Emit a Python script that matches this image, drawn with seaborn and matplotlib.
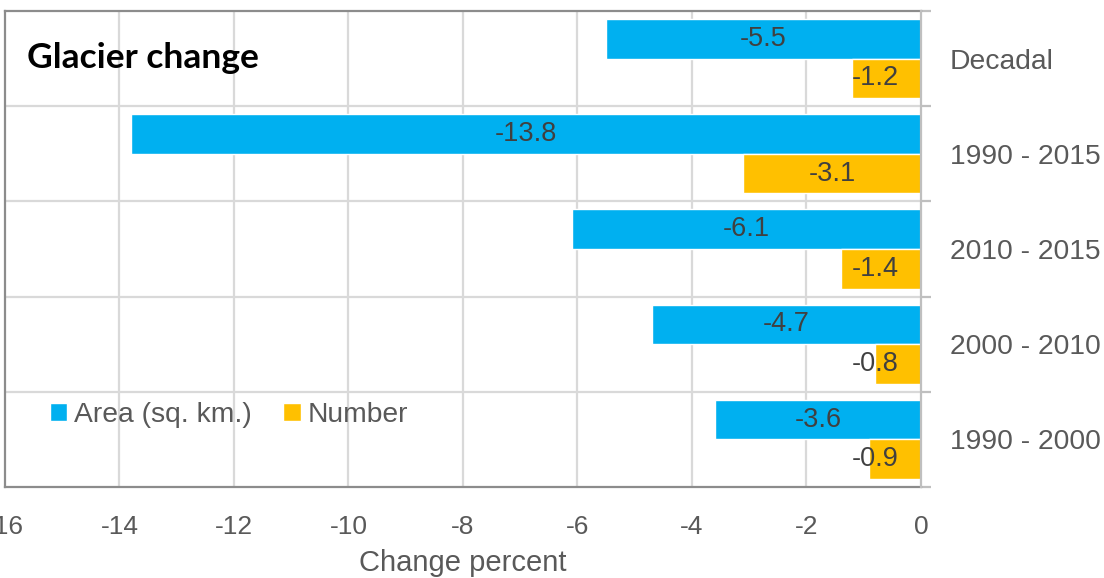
import matplotlib
matplotlib.use("Agg")
import matplotlib.pyplot as plt
import seaborn as sns
import pandas as pd
import numpy as np

# Glacier change by period, percent
periods = ["Decadal", "1990 - 2015", "2010 - 2015", "2000 - 2010", "1990 - 2000"]
area_change = [-5.5, -13.8, -6.1, -4.7, -3.6]
number_change = [-1.2, -3.1, -1.4, -0.8, -0.9]
series_names = ["Area (sq. km.)", "Number"]
x_ticks = [-16, -14, -12, -10, -8, -6, -4, -2, 0]

colors = {"Area (sq. km.)": "#00B0F0", "Number": "#FFC000"}

df = pd.DataFrame({
    "period": periods * 2,
    "series": [series_names[0]] * len(periods) + [series_names[1]] * len(periods),
    "change": area_change + number_change,
})

sns.set_theme(style="white")
plt.rcParams["font.family"] = ["Liberation Sans", "DejaVu Sans"]

text_gray = "#595959"
label_gray = "#404040"

fig = plt.figure(figsize=(11.04, 5.78), dpi=100)
ax = fig.add_axes([0.0045, 0.1574, 0.8297, 0.8236])

sns.barplot(data=df, x="change", y="period", hue="series", order=periods,
            hue_order=series_names, palette=colors, orient="h",
            width=0.83, saturation=1, ax=ax, legend=True, zorder=3)

ax.set_xlim(-16, 0)
ax.set_ylim(len(periods) - 0.5, -0.5)
ax.set_xticks(x_ticks)
ax.set_xticklabels([f"{t:g}" for t in x_ticks])

# grid: vertical at x ticks, horizontal between categories
for t in x_ticks[1:-1]:
    ax.axvline(t, color="#D9D9D9", lw=1.6, zorder=1)
for b in np.arange(0.5, len(periods) - 0.5, 1):
    ax.axhline(b, color="#D9D9D9", lw=1.6, zorder=1)

# category labels on the right, boundary ticks
ax.yaxis.tick_right()
ax.set_yticks(range(len(periods)))
ax.set_yticks(np.arange(-0.5, len(periods), 1), minor=True)
ax.tick_params(axis="y", which="major", length=0, pad=21, labelsize=20.3,
               labelcolor=text_gray)
ax.tick_params(axis="y", which="minor", length=7, width=1.6, color="#BFBFBF",
               direction="out", right=True, left=False)
ax.tick_params(axis="x", length=0, pad=20, labelsize=19, labelcolor=text_gray)
ax.set_ylabel("")
ax.set_xlabel("Change percent", fontsize=21, color=text_gray, labelpad=7)

for side in ["top", "left", "bottom"]:
    ax.spines[side].set_color("#8C8C8C")
    ax.spines[side].set_linewidth(1.6)
ax.spines["right"].set_color("#BFBFBF")
ax.spines["right"].set_linewidth(1.6)
ax.spines["right"].set_zorder(4)

# value labels, centred in each bar but kept clear of the zero line
for container in ax.containers:
    for bar in container:
        w = bar.get_width()
        yc = bar.get_y() + bar.get_height() / 2
        xc = min(w / 2, -0.8)
        ax.text(xc, yc, f"{w:.1f}", ha="center", va="center",
                fontsize=19.5, color=label_gray, zorder=5)

leg = ax.legend(loc="center left", bbox_to_anchor=(0.049, 0.151), ncol=2,
                frameon=False, fontsize=20.3, handlelength=0.62,
                handleheight=0.62, handletextpad=0.25, columnspacing=1.1,
                borderaxespad=0, borderpad=0)
for t in leg.get_texts():
    t.set_color(text_gray)

ax.text(0.024, 0.902, "Glacier change", transform=ax.transAxes,
        fontsize=25.5, fontweight="bold", color="black", ha="left", va="center",
        family=["Lato", "DejaVu Sans"])

fig.savefig("out.png", dpi=100)
